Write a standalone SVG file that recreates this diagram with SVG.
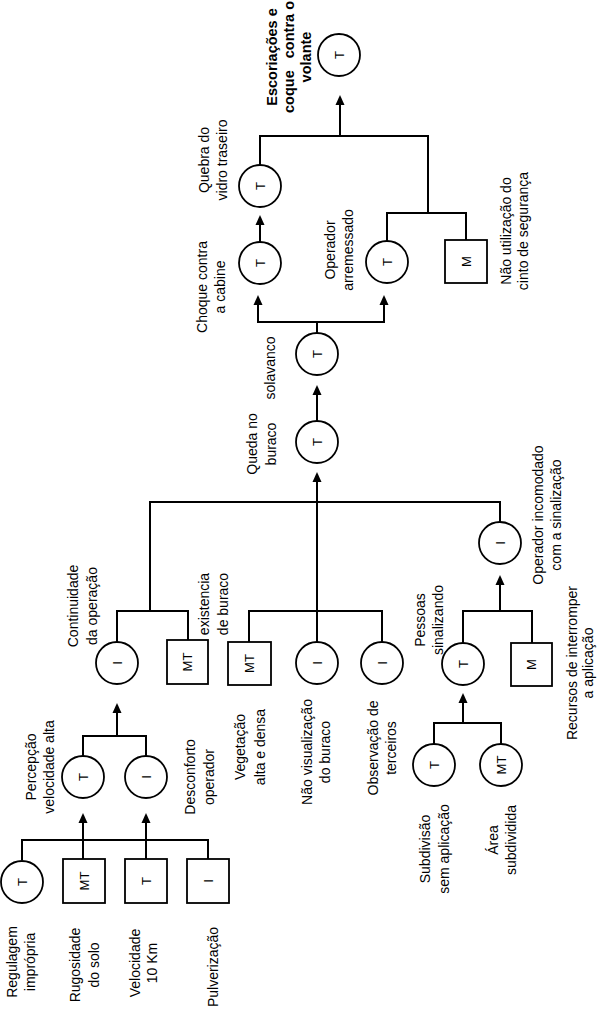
<svg xmlns="http://www.w3.org/2000/svg" width="599" height="1010" viewBox="0 0 599 1010">
<style>
.n{fill:#fff;stroke:#000;stroke-width:1.8}
.s{font-family:"Liberation Sans",Arial,sans-serif;font-size:13px;text-anchor:middle}
.l{font-family:"Liberation Sans",Arial,sans-serif;font-size:14px;text-anchor:middle;fill:#000}
.b{font-weight:bold;font-size:14.5px}
.st{text-anchor:start}
.en{text-anchor:end}
.c{fill:none;stroke:#000;stroke-width:2}
</style>
<defs>
<marker id="ah" viewBox="0 0 10 10" refX="0" refY="5" markerWidth="10" markerHeight="10" markerUnits="userSpaceOnUse" orient="auto">
<path d="M0,0.5 L10,5 L0,9.5 z" fill="#000"/>
</marker>
</defs>
<rect width="599" height="1010" fill="#fff"/>
<g id="connectors" class="c">
<path d="M22,860 V840 H208 V859"/>
<path d="M83,859 V823" marker-end="url(#ah)"/>
<path d="M146,859 V823" marker-end="url(#ah)"/>
<path d="M83,756 V736 H146 V756"/>
<path d="M117,736 V713" marker-end="url(#ah)"/>
<path d="M117,642 V611 H188 V640"/>
<path d="M150,611 V502 H500 V522"/>
<path d="M249,642 V611 H382 V642"/>
<path d="M317,642 V482" marker-end="url(#ah)"/>
<path d="M317,421 V395" marker-end="url(#ah)"/>
<path d="M463,643 V611 H532 V643"/>
<path d="M500,611 V585" marker-end="url(#ah)"/>
<path d="M434,744 V723 H501 V744"/>
<path d="M463,723 V703" marker-end="url(#ah)"/>
<path d="M317,333 V322"/>
<path d="M317,322 H258 V305" marker-end="url(#ah)"/>
<path d="M317,322 H384 V305" marker-end="url(#ah)"/>
<path d="M260,242 V225" marker-end="url(#ah)"/>
<path d="M260,165 V136 H428 V213"/>
<path d="M340,136 V105" marker-end="url(#ah)"/>
<path d="M428,213 H387 V241"/>
<path d="M428,213 H466 V240"/>
</g>
<g id="n-escoriacoes"><circle class="n" cx="339" cy="55" r="21"/><text class="s" transform="translate(339,55) rotate(-90)" dy="0.35em">T</text>
<text class="l b" transform="translate(277,57) rotate(-90)" xml:space="preserve"><tspan x="0" y="0">Escoriações e</tspan><tspan x="0" y="17">coque   contra o</tspan><tspan x="0" y="34">volante</tspan></text></g>
<g id="n-quebra"><circle class="n" cx="260" cy="186" r="21"/><text class="s" transform="translate(260,186) rotate(-90)" dy="0.35em">T</text>
<text class="l" transform="translate(209,160) rotate(-90)"><tspan x="0" y="0">Quebra do</tspan><tspan x="0" y="18">vidro traseiro</tspan></text></g>
<g id="n-choque"><circle class="n" cx="260" cy="263" r="21"/><text class="s" transform="translate(260,263) rotate(-90)" dy="0.35em">T</text>
<text class="l" transform="translate(207,287) rotate(-90)"><tspan x="0" y="0">Choque contra</tspan><tspan x="0" y="18">a cabine</tspan></text></g>
<g id="n-arremessado"><circle class="n" cx="387" cy="262" r="21"/><text class="s" transform="translate(387,262) rotate(-90)" dy="0.35em">T</text>
<text class="l" transform="translate(335,250) rotate(-90)"><tspan x="0" y="0">Operador</tspan><tspan x="0" y="18">arremessado</tspan></text></g>
<g id="n-cinto"><rect class="n" x="445" y="240" width="42" height="43"/><text class="s" transform="translate(466,261.5) rotate(-90)" dy="0.35em">M</text>
<text class="l" transform="translate(511,231) rotate(-90)"><tspan x="0" y="0">Não utilização do</tspan><tspan x="0" y="17">cinto de segurança</tspan></text></g>
<g id="n-solavanco"><circle class="n" cx="317" cy="354" r="21"/><text class="s" transform="translate(317,354) rotate(-90)" dy="0.35em">T</text>
<text class="l" transform="translate(275,368) rotate(-90)">solavanco</text></g>
<g id="n-queda"><circle class="n" cx="317" cy="442" r="21"/><text class="s" transform="translate(317,442) rotate(-90)" dy="0.35em">T</text>
<text class="l" transform="translate(257,444) rotate(-90)"><tspan x="0" y="0">Queda no</tspan><tspan x="0" y="19">buraco</tspan></text></g>
<g id="n-incomodado"><circle class="n" cx="500" cy="543" r="21"/><text class="s" transform="translate(500,543) rotate(-90)" dy="0.35em">I</text>
<text class="l" transform="translate(543,515) rotate(-90)"><tspan x="0" y="0">Operador incomodado</tspan><tspan x="0" y="18">com a sinalização</tspan></text></g>
<g id="n-continuidade"><circle class="n" cx="117" cy="663" r="21"/><text class="s" transform="translate(117,663) rotate(-90)" dy="0.35em">I</text>
<text class="l" transform="translate(78,606) rotate(-90)"><tspan x="0" y="0">Continuidade</tspan><tspan x="0" y="19">da operação</tspan></text></g>
<g id="n-existencia"><rect class="n" x="167" y="640" width="41" height="44"/><text class="s" transform="translate(187.5,662) rotate(-90)" dy="0.35em">MT</text>
<text class="l" transform="translate(209,604) rotate(-90)"><tspan x="0" y="0">existencia</tspan><tspan x="0" y="19">de buraco</tspan></text></g>
<g id="n-vegetacao"><rect class="n" x="228" y="642" width="43" height="43"/><text class="s" transform="translate(249.5,663.5) rotate(-90)" dy="0.35em">MT</text>
<text class="l" transform="translate(245,747) rotate(-90)"><tspan x="0" y="0">Vegetação</tspan><tspan x="0" y="20">alta e densa</tspan></text></g>
<g id="n-visualizacao"><circle class="n" cx="317" cy="663" r="21"/><text class="s" transform="translate(317,663) rotate(-90)" dy="0.35em">I</text>
<text class="l" transform="translate(312,752) rotate(-90)"><tspan x="0" y="0">Não visualização</tspan><tspan x="0" y="18">do buraco</tspan></text></g>
<g id="n-observacao"><circle class="n" cx="382" cy="663" r="21"/><text class="s" transform="translate(382,663) rotate(-90)" dy="0.35em">I</text>
<text class="l" transform="translate(378,748) rotate(-90)"><tspan x="0" y="0">Observação de</tspan><tspan x="0" y="18">terceiros</tspan></text></g>
<g id="n-pessoas"><circle class="n" cx="463" cy="664" r="21"/><text class="s" transform="translate(463,664) rotate(-90)" dy="0.35em">T</text>
<text class="l" transform="translate(425,620) rotate(-90)"><tspan x="0" y="0">Pessoas</tspan><tspan x="0" y="18">sinalizando</tspan></text></g>
<g id="n-recursos"><rect class="n" x="511" y="643" width="41" height="43"/><text class="s" transform="translate(531.5,664.5) rotate(-90)" dy="0.35em">M</text>
<text class="l" transform="translate(577,663) rotate(-90)"><tspan x="0" y="0">Recursos de interromper</tspan><tspan x="0" y="16">a aplicação</tspan></text></g>
<g id="n-percepcao"><circle class="n" cx="83" cy="777" r="21"/><text class="s" transform="translate(83,777) rotate(-90)" dy="0.35em">T</text>
<text class="l" transform="translate(36,767) rotate(-90)"><tspan x="0" y="0">Percepção</tspan><tspan x="0" y="18">velocidade alta</tspan></text></g>
<g id="n-desconforto"><circle class="n" cx="146" cy="777" r="21"/><text class="s" transform="translate(146,777) rotate(-90)" dy="0.35em">I</text>
<text class="l" transform="translate(195,777) rotate(-90)"><tspan x="0" y="0">Desconforto</tspan><tspan x="0" y="19">operador</tspan></text></g>
<g id="n-subdivisao"><circle class="n" cx="434" cy="765" r="21"/><text class="s" transform="translate(434,765) rotate(-90)" dy="0.35em">T</text>
<text class="l" transform="translate(430,849) rotate(-90)"><tspan x="0" y="0">Subdivisão</tspan><tspan x="0" y="19">sem aplicação</tspan></text></g>
<g id="n-area"><circle class="n" cx="501" cy="765" r="21"/><text class="s" transform="translate(501,765) rotate(-90)" dy="0.35em">MT</text>
<text class="l" transform="translate(498,840) rotate(-90)"><tspan x="0" y="0">Área</tspan><tspan x="0" y="18">subdividida</tspan></text></g>
<g id="n-regulagem"><circle class="n" cx="22" cy="882" r="21"/><text class="s" transform="translate(22,882) rotate(-90)" dy="0.35em">T</text>
<text class="l" transform="translate(17,962) rotate(-90)"><tspan x="0" y="0">Regulagem</tspan><tspan x="0" y="18">imprópria</tspan></text></g>
<g id="n-rugosidade"><rect class="n" x="63" y="859" width="42" height="44"/><text class="s" transform="translate(84,881) rotate(-90)" dy="0.35em">MT</text>
<text class="l" transform="translate(80,965) rotate(-90)"><tspan x="0" y="0">Rugosidade</tspan><tspan x="0" y="19">do solo</tspan></text></g>
<g id="n-velocidade"><rect class="n" x="125" y="859" width="42" height="44"/><text class="s" transform="translate(146,881) rotate(-90)" dy="0.35em">T</text>
<text class="l" transform="translate(140,963) rotate(-90)"><tspan x="0" y="0">Velocidade</tspan><tspan x="0" y="17">10 Km</tspan></text></g>
<g id="n-pulverizacao"><rect class="n" x="187" y="859" width="42" height="44"/><text class="s" transform="translate(208,881) rotate(-90)" dy="0.35em">I</text>
<text class="l" transform="translate(218,967) rotate(-90)">Pulverização</text></g>
</svg>
